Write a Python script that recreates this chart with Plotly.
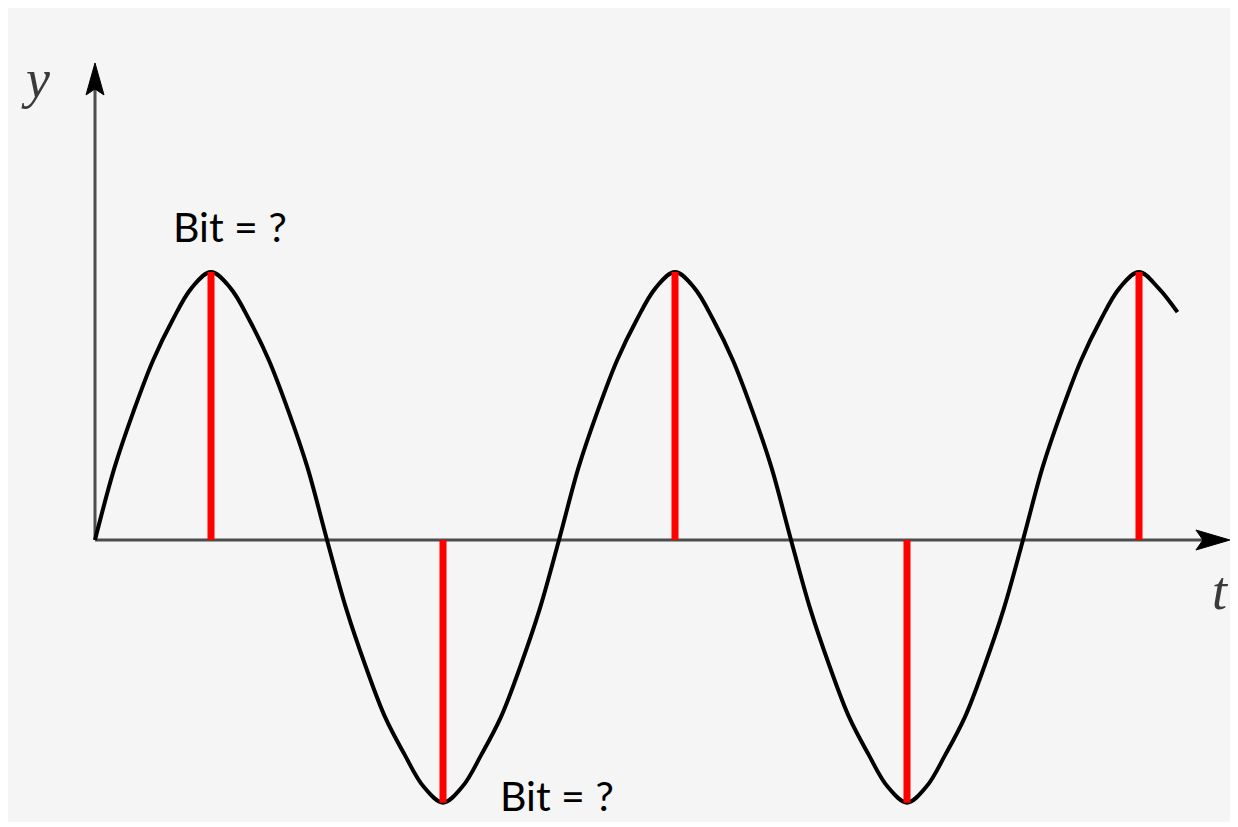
import plotly.graph_objects as go

# Wave samples (t in periods, y in amplitude units)
t_vals = [0.0, 0.042, 0.083, 0.125, 0.167, 0.208, 0.25, 0.292, 0.333, 0.375, 0.417, 0.458,
          0.5, 0.542, 0.583, 0.625, 0.667, 0.708, 0.75, 0.792, 0.833, 0.875, 0.917, 0.958,
          1.0, 1.042, 1.083, 1.125, 1.167, 1.208, 1.25, 1.292, 1.333, 1.375, 1.417, 1.458,
          1.5, 1.542, 1.583, 1.625, 1.667, 1.708, 1.75, 1.792, 1.833, 1.875, 1.917, 1.958,
          2.0, 2.042, 2.083, 2.125, 2.167, 2.208, 2.25, 2.292, 2.333]
y_vals = [0.0, 0.27, 0.48, 0.67, 0.82, 0.94, 1.0, 0.94, 0.82, 0.67, 0.48, 0.27,
          0.0, -0.26, -0.47, -0.66, -0.80, -0.92, -0.98, -0.92, -0.80, -0.66, -0.47, -0.26,
          0.0, 0.27, 0.48, 0.67, 0.82, 0.94, 1.0, 0.94, 0.82, 0.67, 0.48, 0.27,
          0.0, -0.26, -0.47, -0.66, -0.80, -0.92, -0.98, -0.92, -0.80, -0.66, -0.47, -0.26,
          0.0, 0.27, 0.48, 0.67, 0.82, 0.94, 1.0, 0.94, 0.85]

# Sampling stems (red)
stem_t = [0.25, 0.75, 1.25, 1.75, 2.25]
stem_y = [1.0, -0.98, 1.0, -0.98, 1.0]

labels_text = ["Bit = ?", "Bit = ?"]
labels_t = [0.29, 0.995]
labels_y = [1.17, -0.955]

axis_x_end = 2.446
axis_y_end = 1.78

# pixel scale of the drawing (for layout only)
PX_T = 464.0
PX_Y = 268.0
ORIGIN_X = 95.0
ORIGIN_Y = 540.0
PAGE_OFF = 8.0  # default page body margin

sx, sy = [], []
for t, y in zip(stem_t, stem_y):
    sx += [t, t, None]
    sy += [0, y, None]

fig = go.Figure()
# axes lines
fig.add_trace(go.Scatter(x=[0, axis_x_end - 20 / PX_T], y=[0, 0], mode="lines",
                         line=dict(color="#4d4d4d", width=3), hoverinfo="skip"))
fig.add_trace(go.Scatter(x=[0, 0], y=[0, axis_y_end - 20 / PX_Y], mode="lines",
                         line=dict(color="#4d4d4d", width=3), hoverinfo="skip"))
# wave
fig.add_trace(go.Scatter(x=t_vals, y=y_vals, mode="lines",
                         line=dict(color="#000000", width=4, shape="spline", smoothing=1.0),
                         hoverinfo="skip"))
# stems (on top of the curve)
fig.add_trace(go.Scatter(x=sx, y=sy, mode="lines",
                         line=dict(color="#ff0000", width=7), hoverinfo="skip"))

# arrowheads as filled paths (sizes in pixels converted to data units)
L, W, N = 34.0, 10.0, 7.0
xt = axis_x_end
xa = (f"M {xt},0 L {xt - L / PX_T},{W / PX_Y} L {xt - (L - N) / PX_T},0 "
      f"L {xt - L / PX_T},{-W / PX_Y} Z")
fig.add_shape(type="path", path=xa, xref="x", yref="y", fillcolor="#000000",
              line=dict(color="#000000", width=1))
L2, W2, N2 = 32.0, 9.0, 6.0
yt = axis_y_end
ya = (f"M 0,{yt} L {-W2 / PX_T},{yt - L2 / PX_Y} L 0,{yt - (L2 - N2) / PX_Y} "
      f"L {W2 / PX_T},{yt - L2 / PX_Y} Z")
fig.add_shape(type="path", path=ya, xref="x", yref="y", fillcolor="#000000",
              line=dict(color="#000000", width=1))

for txt, t, y in zip(labels_text, labels_t, labels_y):
    fig.add_annotation(x=t, y=y, text=txt, showarrow=False, xanchor="center", yanchor="middle",
                       font=dict(family="Lato", size=41, color="#000000"))

fig.add_annotation(x=-0.128, y=1.72, text="<i>y</i>", showarrow=False,
                   font=dict(family="Liberation Serif", size=54, color="#3a3a3a"))
fig.add_annotation(x=2.425, y=-0.19, text="<i>t</i>", showarrow=False,
                   font=dict(family="Liberation Serif", size=54, color="#3a3a3a"))

fig.update_layout(
    width=1230, height=819,
    margin=dict(l=0, r=5, t=0, b=5),
    paper_bgcolor="#ffffff", plot_bgcolor="#f5f5f5",
    showlegend=False,
    xaxis=dict(range=[(PAGE_OFF - ORIGIN_X) / PX_T, (1233 - ORIGIN_X) / PX_T],
               visible=False, fixedrange=True),
    yaxis=dict(range=[(ORIGIN_Y - 822) / PX_Y, (ORIGIN_Y - PAGE_OFF) / PX_Y],
               visible=False, fixedrange=True),
)

fig.write_html("out.html")
